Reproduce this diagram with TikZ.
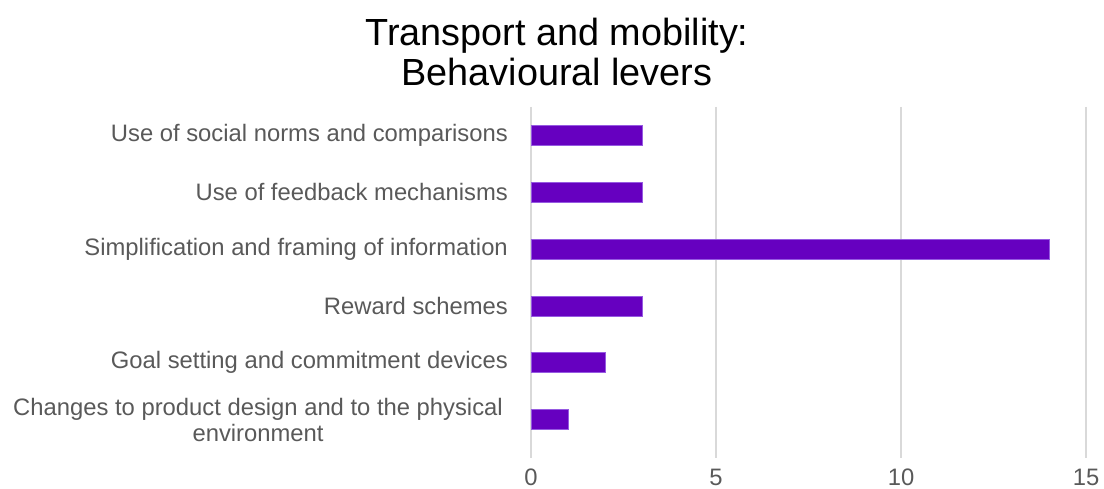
\documentclass[tikz,border=0pt]{standalone}
\usepackage{fontspec}
\setmainfont{Liberation Sans}
\definecolor{barfill}{RGB}{102,0,192}
\definecolor{baredge}{RGB}{150,90,225}
\definecolor{gridc}{RGB}{217,217,217}
\definecolor{txt}{RGB}{89,89,89}
\begin{document}
\begin{tikzpicture}[x=1pt,y=-1pt,
  grid/.style={draw=gridc,line width=1.3pt},
  bar/.style={fill=barfill,draw=baredge,line width=0.8pt},
  lbl/.style={text=txt,font=\fontsize{23.8}{26}\selectfont,inner sep=0pt,anchor=east},
  tick/.style={text=txt,font=\fontsize{23.8}{26}\selectfont,inner sep=0pt},
  ttl/.style={text=black,font=\fontsize{37.8}{40}\selectfont,inner sep=0pt,align=center}]
\useasboundingbox (0,0) rectangle (1104,489);
\node[ttl] (title) at (557,52) {Transport and mobility:\\Behavioural levers};
% gridlines
\foreach \v/\n in {0/g0,5/g5,10/g10,15/g15}{
  \coordinate (\n t) at ({531+37*\v},107);
  \coordinate (\n b) at ({531+37*\v},458);
  \draw[grid] (\n t) -- (\n b);
  \node[tick] (\n l) at ({531+37*\v},477) {\v};
}
% bars
\foreach \val/\y/\n in {3/135/b1,3/192/b2,14/249/b3,3/306/b4,2/362/b5,1/419/b6}{
  \draw[bar] (531,\y-10) rectangle ({531+37*\val},\y+10);
}
\node[lbl] (l1) at (508,135) {Use of social norms and comparisons};
\node[lbl] (l2) at (508,192) {Use of feedback mechanisms};
\node[lbl] (l3) at (508,249) {Simplification and framing of information};
\node[lbl] (l4) at (508,306) {Reward schemes};
\node[lbl] (l5) at (508,362) {Goal setting and commitment devices};
\node[lbl,align=center] (l6) at (503,420) {Changes to product design and to the physical\\environment};
\end{tikzpicture}
\end{document}
